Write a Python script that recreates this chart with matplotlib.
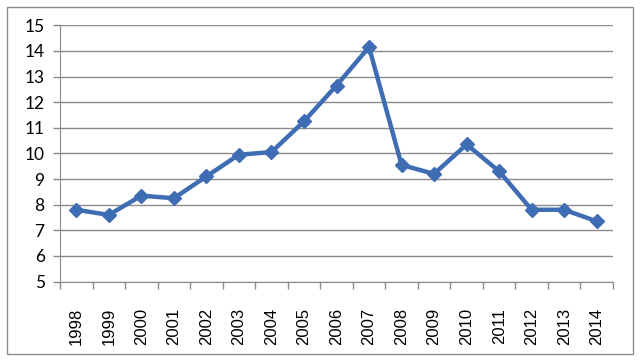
import matplotlib
matplotlib.use("Agg")
import matplotlib.pyplot as plt
from matplotlib.patches import Rectangle

years = ["1998", "1999", "2000", "2001", "2002", "2003", "2004", "2005", "2006",
         "2007", "2008", "2009", "2010", "2011", "2012", "2013", "2014"]
values = [7.8, 7.6, 8.35, 8.25, 9.1, 9.95, 10.05, 11.25, 12.65,
          14.15, 9.55, 9.2, 10.35, 9.3, 7.8, 7.8, 7.35]
yticks = [5, 6, 7, 8, 9, 10, 11, 12, 13, 14, 15]

fig = plt.figure(figsize=(6.4, 3.62), dpi=100)
fig.patches.append(Rectangle((7/640, 1-354/362), (633-7)/640, (354-7)/362,
                             transform=fig.transFigure, fill=False,
                             edgecolor="#8c8c8c", linewidth=1.0))
ax = fig.add_axes([60/640, 1-281.5/362, (613-60)/640, (281.5-25.3)/362])

x = list(range(len(years)))
ax.plot(x, values, color="#3F6DB3", linewidth=3.2, marker="D", markersize=7.5,
        markerfacecolor="#3F6DB3", markeredgecolor="#3F6DB3", zorder=3)

ax.set_xlim(-0.5, len(years) - 0.5)
ax.set_ylim(5, 15)
ax.set_yticks(yticks)
ax.set_yticklabels([str(v) for v in yticks], fontfamily="Lato", fontsize=12.5)
ax.yaxis.grid(True, color="#8a8a8a", linewidth=1.0)
ax.set_axisbelow(True)

ax.set_xticks(x)
ax.set_xticklabels(years, rotation=90, fontfamily="Liberation Sans", fontsize=12)
ax.tick_params(axis="x", which="major", length=0, pad=19)
ax.set_xticks([i - 0.5 for i in range(len(years) + 1)], minor=True)
ax.tick_params(axis="x", which="minor", length=5, width=1, color="#8a8a8a", direction="out")
ax.tick_params(axis="y", length=5, width=1, color="#8a8a8a", pad=6)

for s in ["top", "right"]:
    ax.spines[s].set_visible(False)
ax.spines["left"].set_color("#8a8a8a")
ax.spines["bottom"].set_color("#8a8a8a")

fig.savefig("out.png", dpi=100)
